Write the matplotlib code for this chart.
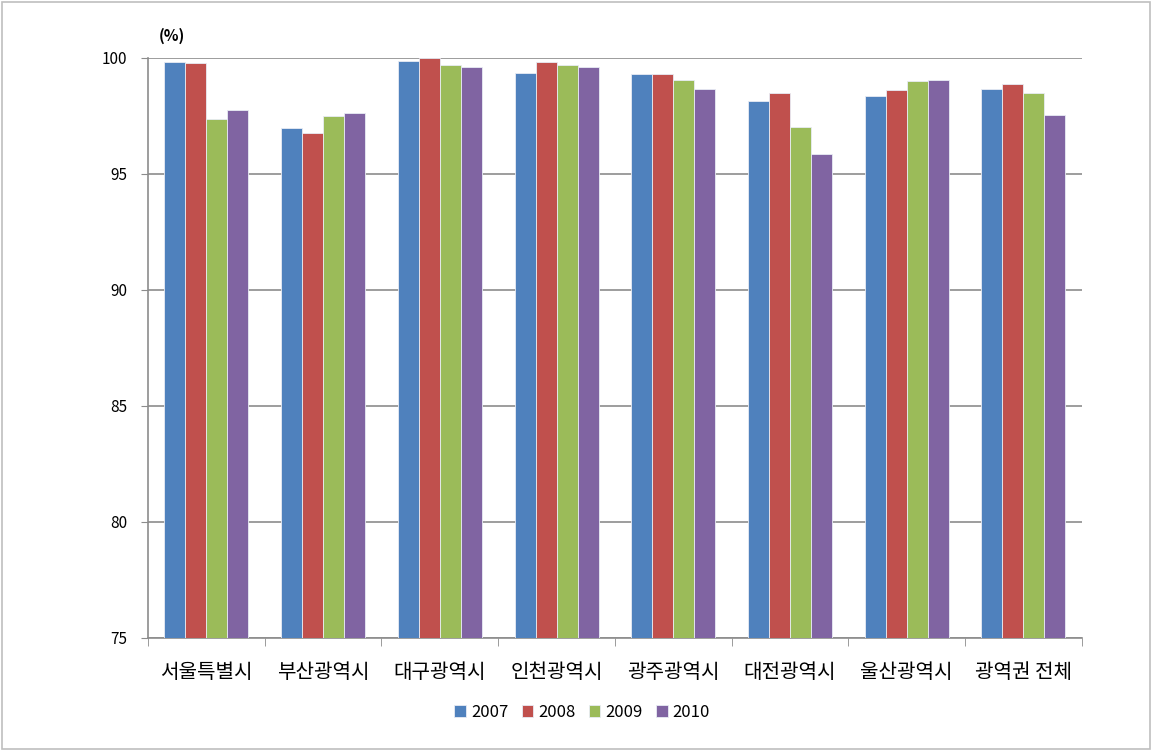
import numpy as np
import matplotlib.pyplot as plt
from matplotlib.patches import Rectangle

plt.rcParams['font.family'] = ['Noto Sans CJK KR', 'DejaVu Sans']

regions = ["서울특별시", "부산광역시", "대구광역시", "인천광역시", "광주광역시", "대전광역시", "울산광역시", "광역권 전체"]
years = ["2007", "2008", "2009", "2010"]
v2007 = [99.83, 96.97, 99.89, 99.37, 99.33, 98.14, 98.34, 98.66]
v2008 = [99.77, 96.75, 100.0, 99.83, 99.33, 98.47, 98.60, 98.86]
v2009 = [97.36, 97.48, 99.71, 99.71, 99.04, 97.03, 98.99, 98.47]
v2010 = [97.75, 97.61, 99.63, 99.63, 98.66, 95.85, 99.06, 97.55]
colors = ["#4F81BD", "#C0504D", "#9BBB59", "#8064A2"]

fig = plt.figure(figsize=(11.52, 7.51), dpi=100)
fig.patches.append(Rectangle((0.002, 0.002), 0.996, 0.996, transform=fig.transFigure,
                             fill=False, edgecolor="#BFBFBF", linewidth=1.2))
ax = fig.add_axes([0.1285, 0.1505, 0.8105, 0.7723])

x = np.arange(len(regions))
w = 0.18
for i, vals in enumerate([v2007, v2008, v2009, v2010]):
    ax.bar(x + (i - 1.5) * w, np.array(vals) - 75, bottom=75, width=w, color=colors[i],
           edgecolor="#E8ECF4", linewidth=0.6, label=years[i], zorder=3)

ax.set_ylim(75, 100)
ax.set_xlim(-0.5, len(regions) - 0.5)
ax.set_yticks([75, 80, 85, 90, 95, 100])
ax.yaxis.grid(True, color="#8C8C8C", linewidth=1.2, zorder=0)
ax.set_axisbelow(True)

ax.set_xticks(x)
ax.set_xticklabels(regions, fontsize=14.5)
ax.set_xticks(np.arange(-0.5, len(regions), 1), minor=True)
ax.tick_params(axis='x', which='major', length=0, pad=17)
ax.tick_params(axis='x', which='minor', length=6, color="#8C8C8C", direction='out')
ax.tick_params(axis='y', length=5, color="#8C8C8C", labelsize=11, pad=10)

for s in ["top", "right"]:
    ax.spines[s].set_visible(False)
for s in ["left", "bottom"]:
    ax.spines[s].set_color("#8C8C8C")
    ax.spines[s].set_linewidth(1.2)

fig.text(0.138, 0.945, "(%)", fontsize=11, fontweight="bold")

ax.legend(loc="upper center", bbox_to_anchor=(0.465, -0.088), ncol=4, frameon=False,
          fontsize=12, handlelength=0.7, handleheight=0.7, handletextpad=0.3, columnspacing=0.8)

plt.savefig("out.png", dpi=100)
